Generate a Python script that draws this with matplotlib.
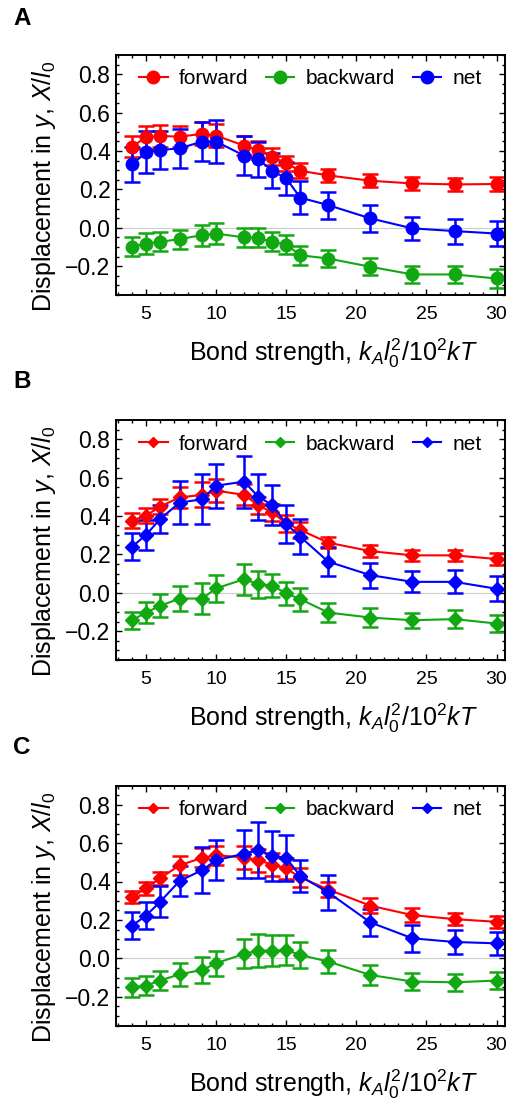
import matplotlib
matplotlib.use("Agg")
import matplotlib.pyplot as plt
from matplotlib.ticker import MultipleLocator
from matplotlib.lines import Line2D

plt.rcParams['font.family'] = ['Liberation Sans', 'DejaVu Sans']
plt.rcParams['mathtext.fontset'] = 'custom'
plt.rcParams['mathtext.rm'] = 'Liberation Sans'
plt.rcParams['mathtext.it'] = 'Liberation Sans:italic'
plt.rcParams['mathtext.bf'] = 'Liberation Sans:bold'

# Bond strength values
bond = [4, 5, 6, 7.4, 9, 10, 12, 13, 14, 15, 16, 18, 21, 24, 27, 30]

# Panel A
a_fwd = [0.423, 0.471, 0.478, 0.475, 0.489, 0.480, 0.428, 0.405, 0.370, 0.336, 0.297, 0.273, 0.245, 0.231, 0.226, 0.228]
a_fwd_err = [0.055, 0.06, 0.055, 0.055, 0.06, 0.06, 0.05, 0.045, 0.045, 0.04, 0.04, 0.035, 0.035, 0.035, 0.035, 0.035]
a_bwd = [-0.099, -0.082, -0.073, -0.059, -0.038, -0.030, -0.050, -0.052, -0.073, -0.087, -0.143, -0.160, -0.203, -0.243, -0.243, -0.264]
a_bwd_err = [0.05, 0.055, 0.05, 0.05, 0.055, 0.055, 0.05, 0.05, 0.05, 0.05, 0.05, 0.045, 0.045, 0.045, 0.045, 0.05]
a_net = [0.330, 0.393, 0.405, 0.414, 0.449, 0.449, 0.376, 0.357, 0.297, 0.257, 0.157, 0.118, 0.049, -0.003, -0.017, -0.030]
a_net_err = [0.09, 0.11, 0.10, 0.10, 0.10, 0.11, 0.10, 0.09, 0.09, 0.085, 0.085, 0.07, 0.07, 0.06, 0.065, 0.065]

# Panel B
b_fwd = [0.376, 0.402, 0.449, 0.497, 0.510, 0.532, 0.510, 0.456, 0.419, 0.362, 0.327, 0.261, 0.217, 0.195, 0.195, 0.176]
b_fwd_err = [0.04, 0.04, 0.04, 0.055, 0.065, 0.06, 0.055, 0.045, 0.045, 0.045, 0.04, 0.03, 0.03, 0.03, 0.03, 0.03]
b_bwd = [-0.143, -0.103, -0.068, -0.030, -0.030, 0.023, 0.071, 0.045, 0.038, -0.003, -0.033, -0.103, -0.129, -0.143, -0.137, -0.160]
b_bwd_err = [0.045, 0.055, 0.06, 0.065, 0.08, 0.07, 0.08, 0.07, 0.06, 0.06, 0.06, 0.05, 0.05, 0.04, 0.045, 0.045]
b_net = [0.240, 0.301, 0.384, 0.470, 0.487, 0.558, 0.579, 0.501, 0.457, 0.358, 0.292, 0.162, 0.092, 0.057, 0.057, 0.021]
b_net_err = [0.07, 0.08, 0.075, 0.11, 0.13, 0.115, 0.135, 0.12, 0.105, 0.10, 0.09, 0.075, 0.065, 0.055, 0.06, 0.065]

# Panel C
c_fwd = [0.320, 0.364, 0.416, 0.485, 0.523, 0.537, 0.525, 0.511, 0.488, 0.468, 0.421, 0.358, 0.274, 0.225, 0.204, 0.190]
c_fwd_err = [0.03, 0.035, 0.035, 0.05, 0.05, 0.05, 0.06, 0.06, 0.06, 0.055, 0.05, 0.04, 0.04, 0.035, 0.03, 0.03]
c_bwd = [-0.152, -0.142, -0.116, -0.083, -0.061, -0.026, 0.023, 0.040, 0.040, 0.043, 0.017, -0.017, -0.087, -0.121, -0.125, -0.116]
c_bwd_err = [0.05, 0.05, 0.05, 0.06, 0.07, 0.065, 0.075, 0.085, 0.08, 0.08, 0.07, 0.06, 0.05, 0.045, 0.045, 0.045]
c_net = [0.170, 0.222, 0.294, 0.403, 0.459, 0.511, 0.545, 0.563, 0.533, 0.523, 0.428, 0.343, 0.187, 0.104, 0.085, 0.078]
c_net_err = [0.07, 0.07, 0.08, 0.08, 0.12, 0.105, 0.125, 0.145, 0.13, 0.12, 0.085, 0.09, 0.07, 0.07, 0.06, 0.06]

series_names = ['forward', 'backward', 'net']
colors = ['#ff0000', '#11a811', '#0000ff']
panel_labels = ['A', 'B', 'C']
y_ticks = [-0.2, 0.0, 0.2, 0.4, 0.6, 0.8]
y_ticklabels = ['\u22120.2', '0.0', '0.2', '0.4', '0.6', '0.8']
panels = [
    ((a_fwd, a_fwd_err), (a_bwd, a_bwd_err), (a_net, a_net_err)),
    ((b_fwd, b_fwd_err), (b_bwd, b_bwd_err), (b_net, b_net_err)),
    ((c_fwd, c_fwd_err), (c_bwd, c_bwd_err), (c_net, c_net_err)),
]
markers = ['o', 'D', 'D']
msizes = [9.0, 7.0, 7.0]
leg_msizes = [9.0, 5.5, 5.5]

fig = plt.figure(figsize=(5.11, 11.06), dpi=100)
W, H = 511.0, 1106.0
ax_left, ax_right = 116, 505
tops = [55, 420, 785.5]
heights = 240
label_y = [18.5, 382, 747]

for i, (pdata, lab) in enumerate(zip(panels, panel_labels)):
    top = tops[i]
    ax = fig.add_axes([ax_left / W, 1 - (top + heights) / H, (ax_right - ax_left) / W, heights / H])
    ax.axhline(0, color='#cccccc', lw=0.8, zorder=0)
    handles = []
    for (vals, errs), name, col in zip(pdata, series_names, colors):
        ax.errorbar(bond, vals, yerr=errs, color=col, marker=markers[i], ms=msizes[i],
                    lw=1.5, elinewidth=1.8, capsize=6.0, capthick=1.8)
        handles.append(Line2D([], [], color=col, lw=1.5, marker=markers[i], ms=leg_msizes[i], label=name))
    ax.set_xlim(2.86, 30.6)
    ax.set_ylim(-0.35, 0.9)
    ax.xaxis.set_major_locator(MultipleLocator(5))
    ax.xaxis.set_minor_locator(MultipleLocator(1))
    ax.yaxis.set_minor_locator(MultipleLocator(0.05))
    ax.set_yticks(y_ticks)
    ax.set_yticklabels(y_ticklabels)
    ax.tick_params(which='both', direction='in', top=True, right=True, width=1.0)
    ax.tick_params(axis='y', labelsize=16.5, pad=4)
    ax.tick_params(axis='x', labelsize=14, pad=8)
    ax.tick_params(which='major', length=4.5)
    ax.tick_params(which='minor', length=2.5)
    for sp in ax.spines.values():
        sp.set_linewidth(1.4)
    ax.set_xlabel(r'Bond strength, $k_A l_{\mathit{0}}^{2}$/10$^{2}$$kT$', fontsize=18)
    ax.xaxis.set_label_coords(0.558, -0.175)
    ax.set_ylabel(r'Displacement in $y$, $X/l_{\mathit{0}}$', fontsize=18)
    ax.yaxis.set_label_coords(-0.148, 0.452)
    ax.legend(handles=handles, loc='center', bbox_to_anchor=(0.5, 0.9), ncol=3, frameon=False,
              fontsize=15, handlelength=1.35, handletextpad=0.55, columnspacing=0.85, borderpad=0.2)
    fig.text(13 / W, 1 - label_y[i] / H, lab, fontsize=17.5, fontweight='bold', va='center', ha='left')

fig.savefig('out.png', dpi=100)
